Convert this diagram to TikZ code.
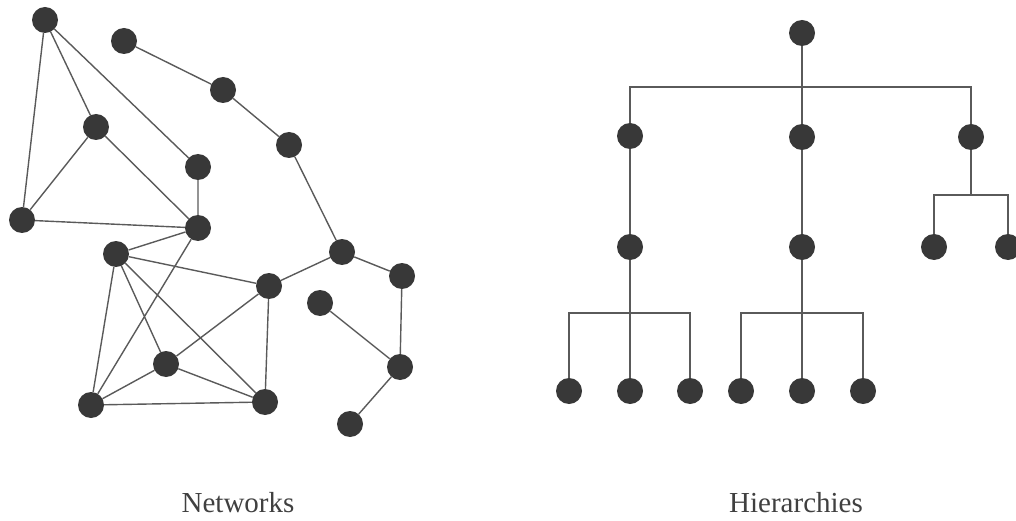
\documentclass[tikz,border=0pt]{standalone}
\usepackage{fontspec}
\setmainfont{Liberation Serif}
\begin{document}
\definecolor{dotgray}{HTML}{383838}
\definecolor{linkgray}{HTML}{5A5A5A}
\definecolor{textgray}{HTML}{404040}
\begin{tikzpicture}[x=1pt,y=-1pt,
  dot/.style={circle,fill=dotgray,draw=none,inner sep=0pt,minimum size=26pt},
  link/.style={draw=linkgray,line width=1.4pt},
  branch/.style={draw=linkgray,line width=1.7pt},
  caption/.style={font=\fontsize{29}{32}\selectfont,text=textgray}]
\useasboundingbox (0,0) rectangle (1016,521);
\clip (0,0) rectangle (1016,521);

% ---- network ----
\node[dot] (a) at (45,20) {};
\node[dot] (b) at (124,41) {};
\node[dot] (c) at (96,127) {};
\node[dot] (d) at (223,90) {};
\node[dot] (e) at (198,167) {};
\node[dot] (f) at (289,145) {};
\node[dot] (g) at (22,220) {};
\node[dot] (h) at (198,228) {};
\node[dot] (i) at (116,254) {};
\node[dot] (j) at (342,252) {};
\node[dot] (k) at (269,286) {};
\node[dot] (l) at (402,276) {};
\node[dot] (m) at (320,303) {};
\node[dot] (n) at (166,364) {};
\node[dot] (o) at (400,367) {};
\node[dot] (p) at (91,405) {};
\node[dot] (q) at (265,402) {};
\node[dot] (r) at (350,424) {};

\path[link] (a) -- (c) (a) -- (g) (a) -- (e)
  (c) -- (g) (c) -- (h) (g) -- (h) (e) -- (h)
  (b) -- (d) (d) -- (f) (f) -- (j)
  (h) -- (i) (h) -- (p)
  (i) -- (k) (i) -- (n) (i) -- (q) (i) -- (p)
  (k) -- (j) (k) -- (n) (k) -- (q)
  (n) -- (p) (n) -- (q) (p) -- (q)
  (j) -- (l) (l) -- (o) (m) -- (o) (o) -- (r);

\node[caption] (netlabel) at (238,503) {Networks};

% ---- hierarchy ----
\node[dot] (top) at (802,33) {};
\node[dot] (l2) at (630,136) {};
\node[dot] (m2) at (802,137) {};
\node[dot] (r2) at (971,137) {};
\node[dot] (l3) at (630,247) {};
\node[dot] (m3) at (802,247) {};
\node[dot] (r3a) at (934,247) {};
\node[dot] (r3b) at (1008,247) {};
\node[dot] (l4a) at (569,391) {};
\node[dot] (l4b) at (630,391) {};
\node[dot] (l4c) at (690,391) {};
\node[dot] (m4a) at (741,391) {};
\node[dot] (m4b) at (802,391) {};
\node[dot] (m4c) at (863,391) {};

\coordinate (jtop) at (802,87);
\coordinate (jl) at (630,313);
\coordinate (jm) at (802,313);
\coordinate (jr) at (971,195);

\path[branch] (top) -- (m2)
  (l2) |- (jtop) -| (r2)
  (l2) -- (l3) (m2) -- (m3)
  (l3) -- (l4b) (l4a) |- (jl) -| (l4c)
  (m3) -- (m4b) (m4a) |- (jm) -| (m4c)
  (r2) -- (jr) (r3a) |- (jr) -| (r3b);

\node[caption] (hierlabel) at (796,503) {Hierarchies};
\end{tikzpicture}
\end{document}
